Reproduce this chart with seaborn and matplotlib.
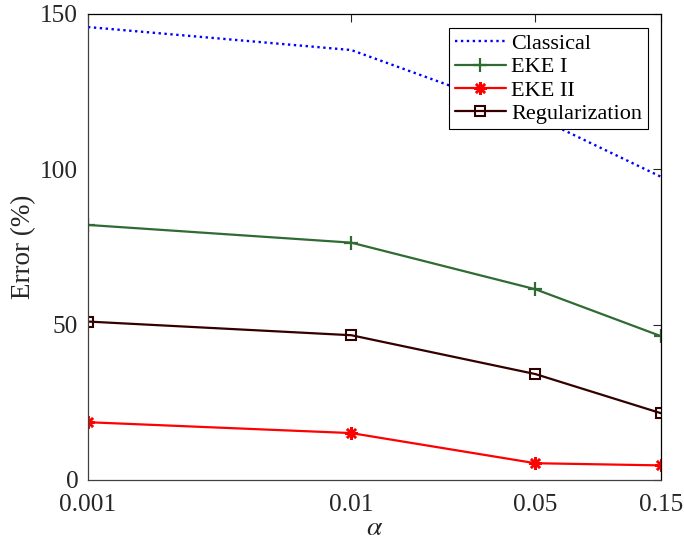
import matplotlib
matplotlib.use("Agg")
import matplotlib.pyplot as plt
import seaborn as sns
import pandas as pd

alpha = [0.001, 0.01, 0.05, 0.15]
alpha_labels = ["0.001", "0.01", "0.05", "0.15"]
classical = [145.8, 138.4, 117.0, 97.6]
eke1 = [82.1, 76.4, 61.4, 46.3]
eke2 = [18.6, 15.1, 5.4, 4.7]
regular = [51.0, 46.6, 34.1, 21.5]
series_names = ["Classical", "EKE I", "EKE II", "Regularization"]
y_ticks = [0, 50, 100, 150]

sns.set_theme(style="white")
plt.rcParams["font.family"] = ["Liberation Serif", "DejaVu Serif"]
plt.rcParams["mathtext.fontset"] = "stix"

fig = plt.figure(figsize=(6.84, 5.45), dpi=100)
ax = fig.add_axes([88/684, 1-480/545, (661-88)/684, (480-14)/545])

styles = [
    dict(color="#0000ff", linestyle=(0, (1, 1.5)), marker=None, lw=1.7),
    dict(color="#2f6b32", linestyle="-", marker="+", lw=1.6, ms=10, mew=1.6),
    dict(color="#ff0000", linestyle="-", marker=(8, 2, 0), lw=1.6, ms=9, mew=1.8),
    dict(color="#330000", linestyle="-", marker="s", lw=1.6, ms=7, mew=1.5, mfc="none"),
]
data = [classical, eke1, eke2, regular]
for name, vals, st in zip(series_names, data, styles):
    df = pd.DataFrame({"alpha": alpha, "err": vals})
    kw = dict(color=st["color"], linestyle=st["linestyle"], linewidth=st["lw"])
    if st["marker"]:
        kw.update(marker=st["marker"], markersize=st["ms"], markeredgewidth=st["mew"],
                  markeredgecolor=st["color"])
        if "mfc" in st:
            kw.update(markerfacecolor=st["mfc"])
    sns.lineplot(data=df, x="alpha", y="err", ax=ax, label=name, **kw)

ax.set_xscale("log")
ax.set_xlim(0.001, 0.15)
ax.set_ylim(0, 150)
ax.set_xticks(alpha)
ax.set_xticklabels(alpha_labels)
ax.minorticks_off()
ax.set_yticks(y_ticks)
ax.set_yticklabels([str(v) for v in y_ticks])
ax.tick_params(axis="both", direction="in", length=6, width=0.8, labelsize=18.3,
               top=True, right=True, colors="#262626", labelcolor="#262626")
ax.tick_params(axis="x", pad=10)
ax.tick_params(axis="y", pad=7)
for s in ["left", "bottom"]:
    ax.spines[s].set_color("#404040")
for s in ["top", "right"]:
    ax.spines[s].set_color("black")
for s in ax.spines.values():
    s.set_linewidth(0.9)

ax.set_xlabel(r"$\alpha$", fontsize=20, color="#262626", labelpad=0)
ax.set_ylabel("Error (%)", fontsize=19.5, color="#262626", labelpad=3)

leg = ax.legend(loc="upper right", bbox_to_anchor=((648-88)/573, (480-28)/466),
                borderaxespad=0, fontsize=16, frameon=True, fancybox=False,
                edgecolor="black", framealpha=1, handlelength=2.3,
                handletextpad=0.25, labelspacing=0.12, borderpad=0.25)
leg.get_frame().set_linewidth(0.8)
for t in leg.get_texts():
    t.set_color("black")

fig.savefig("out.png", dpi=100)
